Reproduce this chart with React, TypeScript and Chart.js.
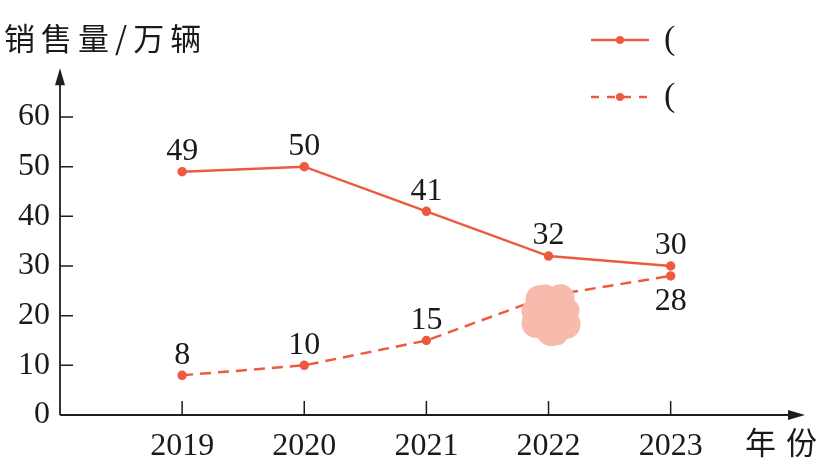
import React, { useEffect, useRef } from "react";
import { Chart, registerables } from "chart.js";

Chart.register(...registerables);

const years = ["2019", "2020", "2021", "2022", "2023"];
const seriesSolid = [49, 50, 41, 32, 30];
const seriesDashed = [8, 10, 15, 24, 28];
const yTicks = [0, 10, 20, 30, 40, 50, 60];
const solidLabelPos = ["above", "above", "above", "above", "above"];
const dashedLabelPos = ["above", "above", "above", "none", "below"];
const legendLabels = ["(", "("];
const yTitle = "销售量/万辆";
const xTitle = "年份";

const RED = "#ee5a40";
const AXIS = "#1e1e1e";
const NUM_FONT = "'Liberation Serif', 'DejaVu Serif', serif";
const CJK_FONT = "'Noto Sans CJK SC', sans-serif";

const decorPlugin = {
  id: "decor",
  afterDraw(chart: any) {
    const ctx = chart.ctx;
    const xs = chart.scales.x;
    const ys = chart.scales.y;
    const area = chart.chartArea;
    ctx.save();
    // axes
    ctx.strokeStyle = AXIS;
    ctx.fillStyle = AXIS;
    ctx.lineWidth = 1.8;
    const yTop = ys.getPixelForValue(69.8);
    ctx.beginPath();
    ctx.moveTo(area.left, area.bottom);
    ctx.lineTo(area.left, yTop + 10);
    ctx.moveTo(area.left, area.bottom);
    ctx.lineTo(area.right - 10, area.bottom);
    ctx.stroke();
    // arrows
    ctx.beginPath();
    ctx.moveTo(area.left, yTop);
    ctx.lineTo(area.left - 5, yTop + 17);
    ctx.lineTo(area.left + 5, yTop + 17);
    ctx.closePath();
    ctx.fill();
    ctx.beginPath();
    ctx.moveTo(area.right, area.bottom);
    ctx.lineTo(area.right - 17, area.bottom - 5);
    ctx.lineTo(area.right - 17, area.bottom + 5);
    ctx.closePath();
    ctx.fill();
    // tick marks (inward)
    ctx.lineWidth = 1.5;
    ctx.beginPath();
    ys.ticks.forEach((t: any) => {
      if (t.value === 0) return;
      const py = ys.getPixelForValue(t.value);
      ctx.moveTo(area.left, py);
      ctx.lineTo(area.left + 13, py);
    });
    xs.ticks.forEach((t: any) => {
      const px = xs.getPixelForValue(t.value);
      ctx.moveTo(px, area.bottom);
      ctx.lineTo(px, area.bottom - 14);
    });
    ctx.stroke();

    // titles
    ctx.fillStyle = "#1a1a1a";
    ctx.font = `31px ${CJK_FONT}`;
    ctx.textBaseline = "middle";
    ctx.textAlign = "left";
    (ctx as any).letterSpacing = "6px";
    ctx.fillText(yTitle, 4, 38);
    (ctx as any).letterSpacing = "10px";
    ctx.fillText(xTitle, 745, 442);
    (ctx as any).letterSpacing = "0px";

    // legend
    const legendY = [40, 97];
    chart.data.datasets.forEach((ds: any, i: number) => {
      const y = legendY[i];
      ctx.strokeStyle = RED;
      ctx.fillStyle = RED;
      ctx.lineWidth = 2.5;
      ctx.setLineDash(ds.borderDash ? [8, 8] : []);
      ctx.lineDashOffset = 0;
      ctx.beginPath();
      ctx.moveTo(591, y);
      ctx.lineTo(649, y);
      ctx.stroke();
      ctx.setLineDash([]);
      ctx.beginPath();
      ctx.arc(620, y, 4, 0, Math.PI * 2);
      ctx.fill();
      ctx.fillStyle = "#1a1a1a";
      ctx.font = `34px ${NUM_FONT}`;
      ctx.textAlign = "left";
      ctx.textBaseline = "middle";
      ctx.fillText(legendLabels[i], 664, y);
    });

    // blot covering part of dashed series at 2022
    const bx = xs.getPixelForValue(Number(years[3])) + 3;
    const by = ys.getPixelForValue(20.3);
    ctx.fillStyle = "rgb(248, 186, 172)";
    const lobes = [
      [0, 0, 24], [-12, -15, 14], [9, -16, 14], [-15, 9, 15], [14, 10, 15],
      [0, 17, 15], [-6, -20, 10], [5, 19, 12], [16, -4, 12], [-18, -3, 12],
    ];
    ctx.beginPath();
    lobes.forEach(([dx, dy, r]) => {
      ctx.moveTo(bx + dx + r, by + dy);
      ctx.arc(bx + dx, by + dy, r, 0, Math.PI * 2);
    });
    ctx.fill("nonzero");
    ctx.restore();
  },
  afterDatasetsDraw(chart: any) {
    const ctx = chart.ctx;
    const positions = [solidLabelPos, dashedLabelPos];
    ctx.save();
    ctx.fillStyle = "#1a1a1a";
    ctx.font = `32px ${NUM_FONT}`;
    ctx.textAlign = "center";
    ctx.textBaseline = "middle";
    chart.data.datasets.forEach((ds: any, di: number) => {
      const meta = chart.getDatasetMeta(di);
      meta.data.forEach((pt: any, i: number) => {
        const pos = positions[di][i];
        if (pos === "none") return;
        const v = ds.data[i].y;
        const y = pos === "above" ? pt.y - 20 : pt.y + 26;
        ctx.fillText(String(v), pt.x, y);
      });
    });
    ctx.restore();
  },
};

export default function App() {
  const ref = useRef<HTMLCanvasElement | null>(null);
  useEffect(() => {
    document.body.style.margin = "0";
    const canvas = ref.current!;
    const chart = new Chart(canvas, {
      type: "line",
      data: {
        datasets: [
          {
            label: legendLabels[0],
            data: years.map((y, i) => ({ x: Number(y), y: seriesSolid[i] })),
            borderColor: RED,
            backgroundColor: RED,
            pointBackgroundColor: RED,
            pointBorderColor: RED,
            borderWidth: 2.5,
            pointRadius: 3.5,
            tension: 0,
          },
          {
            label: legendLabels[1],
            data: years.map((y, i) => ({ x: Number(y), y: seriesDashed[i] })),
            borderColor: RED,
            backgroundColor: RED,
            pointBackgroundColor: RED,
            pointBorderColor: RED,
            borderWidth: 2.5,
            borderDash: [11, 7],
            pointRadius: 3.5,
            tension: 0,
          },
        ],
      },
      options: {
        animation: false,
        responsive: false,
        events: [],
        layout: { padding: { top: 117, right: 19, left: 0, bottom: 0 } },
        plugins: { legend: { display: false }, tooltip: { enabled: false }, title: { display: false } },
        scales: {
          x: {
            type: "linear",
            min: 2018,
            max: 2024.1,
            grid: { display: false, drawTicks: false },
            border: { display: false },
            afterBuildTicks: (s: any) => {
              s.ticks = years.map((y) => ({ value: Number(y) }));
            },
            afterFit: (s: any) => {
              s.height = 45;
            },
            ticks: {
              autoSkip: false,
              maxRotation: 0,
              padding: 12,
              color: "#1a1a1a",
              font: { family: NUM_FONT, size: 32 },
              callback: (v: any) => String(v),
            },
          },
          y: {
            min: 0,
            max: 60,
            grid: { display: false, drawTicks: false },
            border: { display: false },
            afterBuildTicks: (s: any) => {
              s.ticks = yTicks.map((v) => ({ value: v }));
            },
            afterFit: (s: any) => {
              s.width = 60;
            },
            ticks: {
              padding: 10,
              color: "#1a1a1a",
              font: { family: NUM_FONT, size: 32 },
              callback: (v: any) => String(v),
            },
          },
        },
      } as any,
      plugins: [decorPlugin],
    });
    return () => chart.destroy();
  }, []);
  return (
    <div style={{ position: "absolute", left: 0, top: 0, width: 824, height: 460, background: "#fff" }}>
      <canvas ref={ref} width={824} height={460} />
    </div>
  );
}
